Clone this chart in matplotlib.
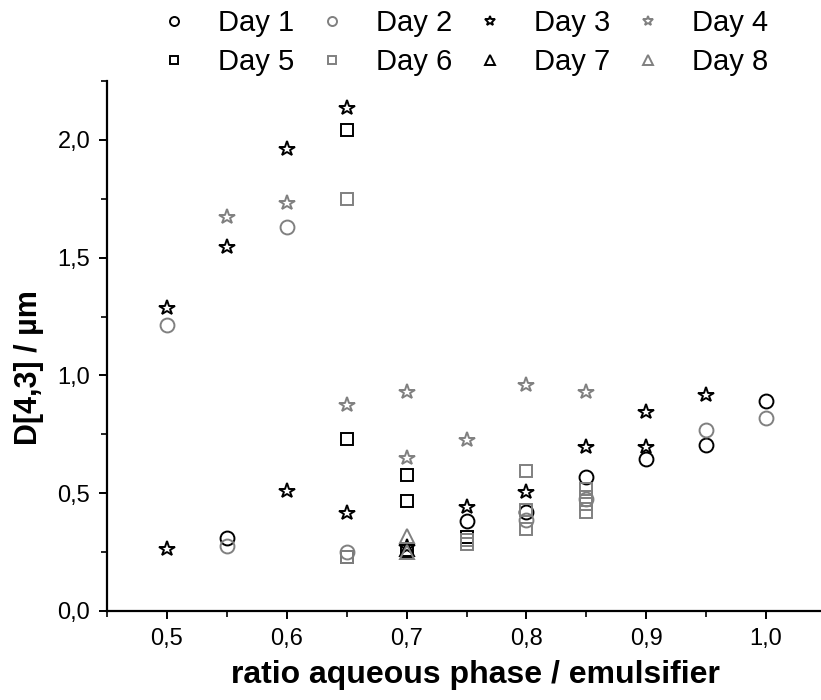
import numpy as np
import matplotlib
matplotlib.use("Agg")
import matplotlib.pyplot as plt
from matplotlib.ticker import MultipleLocator, FuncFormatter

plt.rcParams['font.family'] = ['Liberation Sans', 'DejaVu Sans']

# D[4,3] values, per day (x = ratio, y = D[4,3] in µm)
day1_x = [0.55, 0.75, 0.80, 0.85, 0.90, 0.95, 1.00]
day1_y = [0.31, 0.38, 0.42, 0.57, 0.645, 0.705, 0.89]

day2_x = [0.50, 0.60, 0.55, 0.65, 0.80, 0.85, 0.95, 1.00]
day2_y = [1.215, 1.63, 0.275, 0.25, 0.385, 0.475, 0.77, 0.82]

day3_x = [0.50, 0.55, 0.60, 0.65, 0.50, 0.60, 0.65, 0.70, 0.75, 0.80, 0.85, 0.90, 0.90, 0.95]
day3_y = [1.285, 1.547, 1.962, 2.137, 0.265, 0.511, 0.415, 0.27, 0.44, 0.507, 0.697, 0.846, 0.698, 0.917]

day4_x = [0.55, 0.60, 0.65, 0.70, 0.70, 0.75, 0.80, 0.85]
day4_y = [1.672, 1.731, 0.875, 0.929, 0.648, 0.726, 0.96, 0.931]

day5_x = [0.65, 0.65, 0.70, 0.70, 0.75, 0.65, 0.70]
day5_y = [2.042, 0.73, 0.578, 0.467, 0.315, 0.23, 0.255]

day6_x = [0.65, 0.65, 0.75, 0.75, 0.80, 0.80, 0.80, 0.85, 0.85, 0.85, 0.85]
day6_y = [1.749, 0.23, 0.30, 0.285, 0.596, 0.43, 0.35, 0.52, 0.485, 0.455, 0.42]

day7_x = [0.70]
day7_y = [0.265]

day8_x = [0.70, 0.70]
day8_y = [0.32, 0.25]

labels = ['Day 1', 'Day 2', 'Day 3', 'Day 4', 'Day 5', 'Day 6', 'Day 7', 'Day 8']
xs = [day1_x, day2_x, day3_x, day4_x, day5_x, day6_x, day7_x, day8_x]
ys = [day1_y, day2_y, day3_y, day4_y, day5_y, day6_y, day7_y, day8_y]

gray = '#808080'
markers = ['o', 'o', '*', '*', 's', 's', '^', '^']
colors = ['black', gray, 'black', gray, 'black', gray, 'black', gray]
sizes = [10, 10, 11.5, 11.5, 8.5, 8.5, 10, 10]

fig = plt.figure(figsize=(8.21, 7.0), dpi=100)
ax = fig.add_axes([107 / 821, 1 - 611 / 700, (826 - 107) / 821, (611 - 81) / 700])

handles = []
for x, y, m, c, s, lab in zip(xs, ys, markers, colors, sizes, labels):
    h, = ax.plot(x, y, linestyle='none', marker=m, markersize=s,
                 markerfacecolor='none', markeredgecolor=c,
                 markeredgewidth=1.4, label=lab)
    handles.append(h)

ax.set_xlim(0.45, 1.05)
ax.set_ylim(0, 2.25)
ax.xaxis.set_major_locator(MultipleLocator(0.1))
ax.xaxis.set_minor_locator(MultipleLocator(0.05))
ax.yaxis.set_major_locator(MultipleLocator(0.5))
ax.yaxis.set_minor_locator(MultipleLocator(0.25))

comma = FuncFormatter(lambda v, p: ('%.1f' % v).replace('.', ','))
ax.xaxis.set_major_formatter(comma)
ax.yaxis.set_major_formatter(comma)

ax.spines['top'].set_visible(False)
ax.spines['right'].set_visible(False)
ax.spines['left'].set_linewidth(1.6)
ax.spines['bottom'].set_linewidth(1.6)
ax.tick_params(which='major', direction='out', length=6, width=1.4, labelsize=17, pad=6)
ax.tick_params(which='minor', direction='out', length=4, width=1.2)

ax.set_xlabel('ratio aqueous phase / emulsifier', fontsize=23, fontweight='bold')
ax.xaxis.set_label_coords(0.512, -0.092)
ax.set_ylabel('D[4,3] / µm', fontsize=22, fontweight='bold')
ax.yaxis.set_label_coords(-0.088, 0.46)

# legend filled row by row: Day 1-4 on top, Day 5-8 below
order = [0, 4, 1, 5, 2, 6, 3, 7]
fig.legend(handles=[handles[i] for i in order], labels=[labels[i] for i in order],
           loc='upper center', bbox_to_anchor=(0.565, 1.025), ncol=4,
           frameon=False, fontsize=21, markerscale=0.65, handlelength=1.0,
           handletextpad=1.0, columnspacing=0.8, labelspacing=0.4)

fig.savefig('out.png', dpi=100)
